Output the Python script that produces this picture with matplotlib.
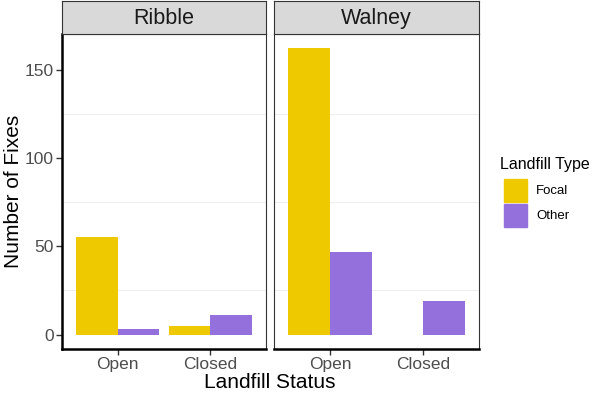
import numpy as np
import matplotlib
matplotlib.use("Agg")
import matplotlib.pyplot as plt
from matplotlib.patches import Rectangle

plt.rcParams.update({"font.family": ["Liberation Sans", "DejaVu Sans"]})

# ── Data ───────────────────────────────────────────────────────
sites    = ["Ribble", "Walney"]
statuses = ["Open", "Closed"]
types    = ["Focal", "Other"]
focal = {"Ribble": [55, 5], "Walney": [162, 0]}
other = {"Ribble": [3, 11], "Walney": [47, 19]}

COL = {"Focal": "#EEC900", "Other": "#9370DB"}
TXT = "#4D4D4D"

W, H = 596, 395
fig = plt.figure(figsize=(W / 100, H / 100), dpi=100)

def fx(px): return px / W
def fy(py): return 1 - py / H

panels = {"Ribble": (62, 266), "Walney": (274, 479)}
top, bot, strip_top = 34, 349, 1
ymin, ymax = -8.1, 170.1

for i, site in enumerate(sites):
    x0, x1 = panels[site]
    ax = fig.add_axes([fx(x0), fy(bot), fx(x1) - fx(x0), fy(top) - fy(bot)])
    xs = np.arange(1, len(statuses) + 1)
    w = 0.45
    for j, (t, vals) in enumerate(zip(types, [focal[site], other[site]])):
        vals = np.array(vals, dtype=float)
        off = -w / 2 if j == 0 else w / 2
        ax.bar(xs + off, vals, width=w, color=COL[t], lw=0, zorder=3,
               label=t)
    ax.set_xlim(0.4, 2.6)
    ax.set_ylim(ymin, ymax)
    for g in [25, 75, 125]:
        ax.axhline(g, color="#EBEBEB", lw=0.6, zorder=1)
    ax.set_xticks(xs)
    ax.set_xticklabels(statuses, fontsize=12.5, color=TXT)
    ax.tick_params(axis="x", length=4, width=1, color="#333333", pad=2)
    for sp in ax.spines.values():
        sp.set_color("#333333")
        sp.set_linewidth(0.8)
    ax.spines["bottom"].set_color("black")
    ax.spines["bottom"].set_linewidth(1.8)
    if i == 0:
        ax.set_yticks([0, 50, 100, 150])
        ax.set_yticklabels(["0", "50", "100", "150"], fontsize=12.5, color=TXT)
        ax.tick_params(axis="y", length=4, width=1, color="#333333", pad=2)
        ax.spines["left"].set_color("black")
        ax.spines["left"].set_linewidth(1.8)
    else:
        ax.set_yticks([])
    # facet strip
    sax = fig.add_axes([fx(x0), fy(top), fx(x1) - fx(x0), fy(strip_top) - fy(top)])
    sax.set_xticks([]); sax.set_yticks([])
    sax.set_facecolor("#D9D9D9")
    for sp in sax.spines.values():
        sp.set_color("#333333")
        sp.set_linewidth(0.8)
    sax.text(0.5, 0.47, site, ha="center", va="center", fontsize=15.5,
             color="#1A1A1A", transform=sax.transAxes)

fig.text(fx(14), fy(191), "Number of Fixes", rotation=90, ha="center",
         va="center", fontsize=15, color="black")
fig.text(fx(270), fy(383), "Landfill Status", ha="center", va="center",
         fontsize=15, color="black")

# legend
fig.text(fx(500), fy(165), "Landfill Type", ha="left", va="center",
         fontsize=11.5, color="black")
for k, t in enumerate(types):
    yk = 179 + k * 25
    fig.patches.append(Rectangle((fx(504), fy(yk + 23)), fx(23), fy(yk) - fy(yk + 23),
                                 transform=fig.transFigure, color=COL[t]))
    fig.text(fx(536), fy(yk + 12), t, ha="left", va="center",
             fontsize=9.5, color="black")

fig.savefig("out.png", dpi=100)
